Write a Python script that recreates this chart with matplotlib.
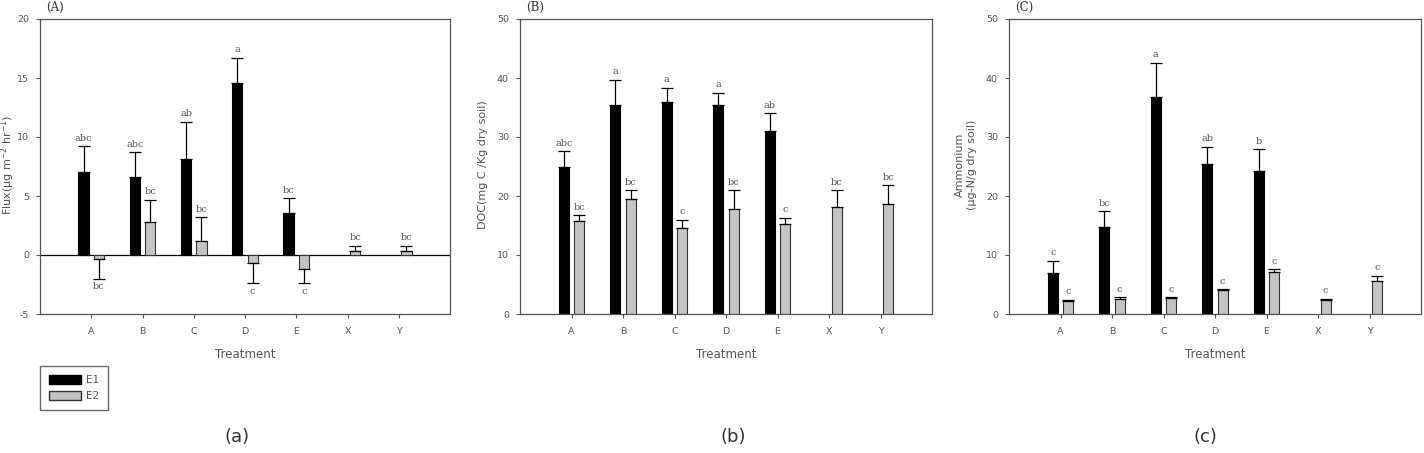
import matplotlib
matplotlib.use("Agg")
import matplotlib.pyplot as plt
from matplotlib.patches import Patch
import numpy as np

categories = ["A", "B", "C", "D", "E", "X", "Y"]

# Panel (A) Flux
flux_e1 = [7.0, 6.6, 8.1, 14.6, 3.6, None, None]
flux_e1_err = [2.2, 2.1, 3.2, 2.1, 1.2, None, None]
flux_e2 = [-0.3, 2.8, 1.2, -0.7, -1.2, 0.3, 0.3]
flux_e2_err = [1.7, 1.9, 2.0, 1.7, 1.2, 0.5, 0.5]
flux_e1_lab = ["abc", "abc", "ab", "a", "bc", None, None]
flux_e2_lab = ["bc", "bc", "bc", "c", "c", "bc", "bc"]

# Panel (B) DOC
doc_e1 = [25.0, 35.5, 36.0, 35.5, 31.1, None, None]
doc_e1_err = [2.6, 4.2, 2.3, 2.0, 2.9, None, None]
doc_e2 = [15.8, 19.5, 14.5, 17.8, 15.2, 18.2, 18.7]
doc_e2_err = [0.9, 1.5, 1.5, 3.2, 1.1, 2.8, 3.1]
doc_e1_lab = ["abc", "a", "a", "a", "ab", None, None]
doc_e2_lab = ["bc", "bc", "c", "bc", "c", "bc", "bc"]

# Panel (C) Ammonium
amm_e1 = [7.0, 14.7, 36.8, 25.4, 24.3, None, None]
amm_e1_err = [2.0, 2.7, 5.8, 2.9, 3.6, None, None]
amm_e2 = [2.2, 2.6, 2.7, 4.0, 7.2, 2.3, 5.6]
amm_e2_err = [0.2, 0.2, 0.1, 0.2, 0.4, 0.3, 0.9]
amm_e1_lab = ["c", "bc", "a", "ab", "b", None, None]
amm_e2_lab = ["c", "c", "c", "c", "c", "c", "c"]

TXT = "#555555"
SPINE = "#555555"
GRAY = "#c4c4c4"

W, H = 1424, 453
fig = plt.figure(figsize=(W / 100, H / 100), dpi=100)

def fx(px):
    return px / W

def fy(py):
    return 1 - py / H

def panel(left_px, right_px, e1, e1err, e2, e2err, l1, l2, ylim, yticks, title, ylabel, ylabel_x, zero_line=False):
    ax = fig.add_axes([fx(left_px), fy(314), fx(right_px - left_px), fy(19) - fy(314)])
    x = np.arange(1, len(categories) + 1)
    off = 0.15
    w = 0.2
    span = ylim[1] - ylim[0]
    for i in range(len(categories)):
        if e1[i] is not None:
            v = e1[i]
            ax.bar(x[i] - off, v, width=w, color="black", edgecolor="black", linewidth=0.8, zorder=2)
            ax.errorbar(x[i] - off, v, yerr=[[0], [e1err[i]]], fmt="none", ecolor="black",
                        elinewidth=0.9, capsize=4, capthick=0.9, zorder=3)
            ax.text(x[i] - off, v + e1err[i] + span * 0.012, l1[i], ha="center", va="bottom",
                    fontsize=7, family="DejaVu Serif", color=TXT)
        if e2[i] is not None:
            v = e2[i]
            ax.bar(x[i] + off, v, width=w, color=GRAY, edgecolor="#333333", linewidth=0.8, zorder=2)
            if v >= 0:
                ax.errorbar(x[i] + off, v, yerr=[[0], [e2err[i]]], fmt="none", ecolor="black",
                            elinewidth=0.9, capsize=4, capthick=0.9, zorder=3)
                ax.text(x[i] + off, v + e2err[i] + span * 0.012, l2[i], ha="center", va="bottom",
                        fontsize=7, family="DejaVu Serif", color=TXT)
            else:
                ax.errorbar(x[i] + off, v, yerr=[[e2err[i]], [0]], fmt="none", ecolor="black",
                            elinewidth=0.9, capsize=4, capthick=0.9, zorder=3)
                ax.text(x[i] + off, v - e2err[i] - span * 0.012, l2[i], ha="center", va="top",
                        fontsize=7, family="DejaVu Serif", color=TXT)
    if zero_line:
        ax.axhline(0, color="black", linewidth=0.9, zorder=1)
    ax.set_xlim(0, 8)
    ax.set_ylim(*ylim)
    ax.set_yticks(yticks)
    ax.set_yticklabels([str(t) for t in yticks])
    ax.set_xticks(x)
    ax.set_xticklabels(categories)
    ax.tick_params(axis="both", direction="out", length=3, width=0.8, color=SPINE,
                   labelsize=6.8, labelcolor=TXT, pad=5)
    ax.tick_params(axis="x", pad=6)
    for s in ax.spines.values():
        s.set_color(SPINE)
        s.set_linewidth(0.9)
    ax.set_xlabel("Treatment", fontsize=8.5, color=TXT, labelpad=9)
    fig.text(fx(left_px + 6), fy(7), title, ha="left", va="center", fontsize=8.5,
             family="DejaVu Serif", color="#333333")
    fig.text(fx(ylabel_x), fy(165), ylabel, ha="center", va="center", rotation=90,
             fontsize=8, color=TXT, linespacing=1.3)
    return ax

panel(40, 450, flux_e1, flux_e1_err, flux_e2, flux_e2_err, flux_e1_lab, flux_e2_lab,
      (-5, 20), [-5, 0, 5, 10, 15, 20], "(A)", "Flux(\u03bcg m$^{-2}$ hr$^{-1}$)", 8, zero_line=True)
panel(520, 932, doc_e1, doc_e1_err, doc_e2, doc_e2_err, doc_e1_lab, doc_e2_lab,
      (0, 50), [0, 10, 20, 30, 40, 50], "(B)", "DOC(mg C /Kg dry soil)", 483)
panel(1009, 1421, amm_e1, amm_e1_err, amm_e2, amm_e2_err, amm_e1_lab, amm_e2_lab,
      (0, 50), [0, 10, 20, 30, 40, 50], "(C)", "Ammonium\n(\u03bcg-N/g dry soil)", 966)

handles = [Patch(facecolor="black", edgecolor="black", label="E1"),
           Patch(facecolor=GRAY, edgecolor="#333333", label="E2")]
leg = fig.legend(handles=handles, loc="upper left", bbox_to_anchor=(fx(40), fy(366)),
                 fontsize=7.5, frameon=True, fancybox=False, handlelength=3.0, handleheight=0.9,
                 borderpad=0.9, labelspacing=0.55, handletextpad=0.5, borderaxespad=0)
leg.get_frame().set_edgecolor("#444444")
leg.get_frame().set_linewidth(1.0)
for t in leg.get_texts():
    t.set_color(TXT)

for lab, xp in [("(a)", 237), ("(b)", 733), ("(c)", 1205)]:
    fig.text(fx(xp), fy(437), lab, ha="center", va="center", fontsize=13, color="#333333")

fig.savefig("out.png", dpi=100)
